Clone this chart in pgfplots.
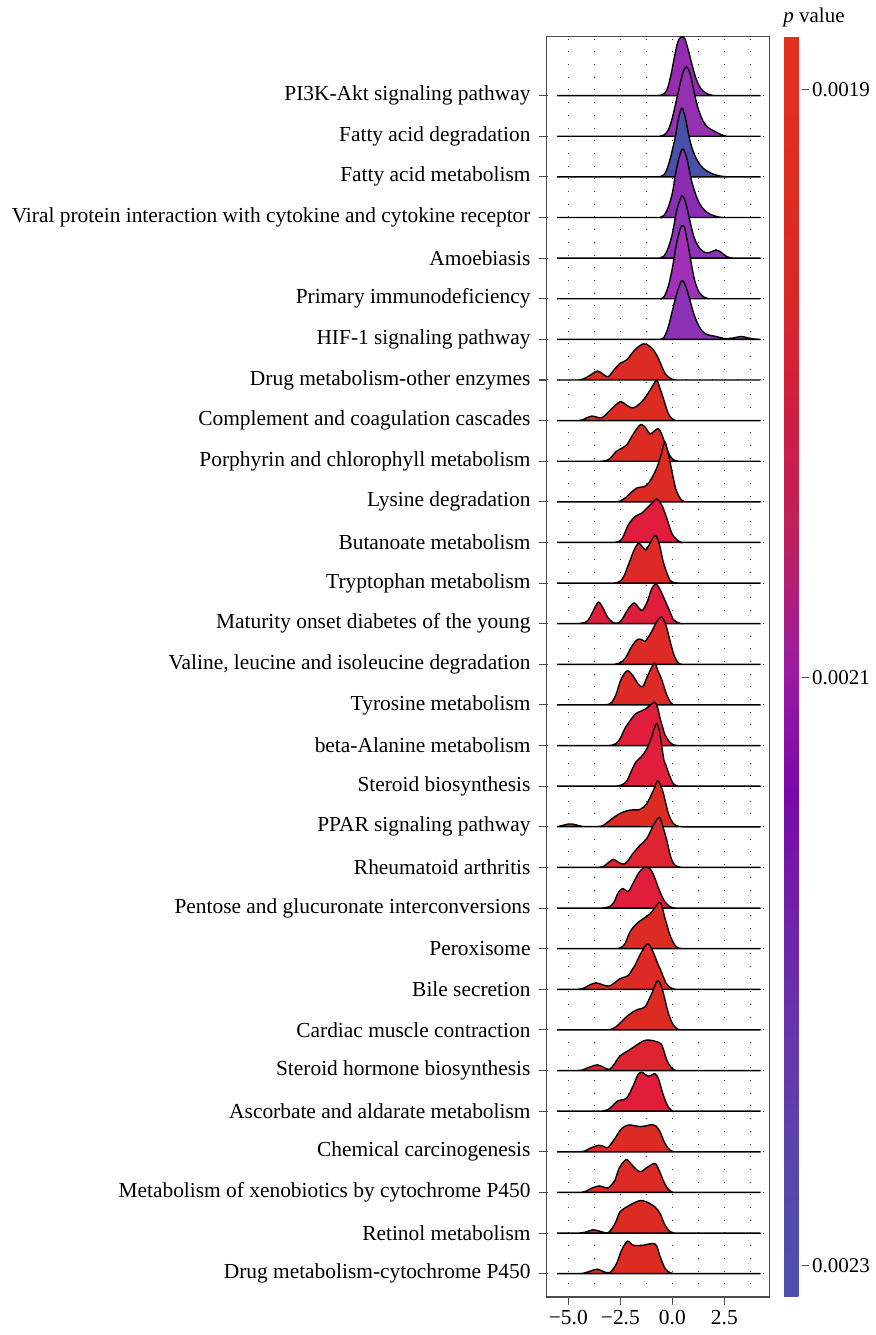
\documentclass[border=0pt]{standalone}
\usepackage{pgfplots}
\pgfplotsset{compat=1.18}
\usepackage{fontspec}
\setmainfont{Liberation Serif}
\pgfplotsset{colormap={pval}{rgb255=(75,80,174) rgb255=(88,70,172) rgb255=(102,55,171) rgb255=(112,35,170) rgb255=(122,8,170) rgb255=(155,28,160) rgb255=(190,32,95) rgb255=(205,30,65) rgb255=(218,40,38) rgb255=(222,45,32) rgb255=(226,48,30)}}
\definecolor{r30}{HTML}{962CB2}
\definecolor{r29}{HTML}{9530B0}
\definecolor{r28}{HTML}{4A4FA8}
\definecolor{r27}{HTML}{8A2DB2}
\definecolor{r26}{HTML}{8E33B5}
\definecolor{r25}{HTML}{A030B8}
\definecolor{r24}{HTML}{8C32B5}
\definecolor{red1}{HTML}{DC2B22}
\definecolor{red2}{HTML}{DD2A26}
\definecolor{crim}{HTML}{E01E3C}
\definecolor{crim2}{HTML}{DE2430}
\begin{document}
\begin{tikzpicture}
\useasboundingbox (0,0) rectangle (875pt,1335pt);
\begin{axis}[
 at={(546.7pt,38pt)}, anchor=south west,
 scale only axis, width=222.6pt, height=1260.3pt,
 xmin=-6.04, xmax=4.66, ymin=0.426, ymax=31.45,
 clip=false,
 axis line style={draw=black!70, line width=1.1pt},
 tick align=outside, xtick pos=bottom, ytick pos=left,
 xtick={-5,-2.5,0,2.5}, xticklabels={−5.0,−2.5,0.0,2.5},
 minor xtick={-3.75,-1.25,1.25,3.75},
 ytick={1,...,30},
 yticklabels={Drug metabolism-cytochrome P450,Retinol metabolism,Metabolism of xenobiotics by cytochrome P450,Chemical carcinogenesis,Ascorbate and aldarate metabolism,Steroid hormone biosynthesis,Cardiac muscle contraction,Bile secretion,Peroxisome,Pentose and glucuronate interconversions,Rheumatoid arthritis,PPAR signaling pathway,Steroid biosynthesis,beta-Alanine metabolism,Tyrosine metabolism,{Valine, leucine and isoleucine degradation},Maturity onset diabetes of the young,Tryptophan metabolism,Butanoate metabolism,Lysine degradation,Porphyrin and chlorophyll metabolism,Complement and coagulation cascades,Drug metabolism-other enzymes,HIF-1 signaling pathway,Primary immunodeficiency,Amoebiasis,Viral protein interaction with cytokine and cytokine receptor,Fatty acid metabolism,Fatty acid degradation,PI3K-Akt signaling pathway},
 major tick length=7.5pt, minor tick length=0pt,
 tick style={black!70, line width=1.1pt},
 xmajorgrids, xminorgrids, ymajorgrids,
 grid style={black!75, line width=1pt, dash pattern=on 1pt off 11.7pt},
 minor grid style={black!75, line width=1pt, dash pattern=on 1pt off 11.7pt},
 ticklabel style={font=\fontsize{21.4pt}{25pt}\selectfont, inner sep=0pt},
 yticklabel style={xshift=-8.5pt},
 xticklabel style={yshift=-6pt},
 colormap name=pval,
 point meta min=-23.107, point meta max=-18.819,
 colorbar,
 colorbar style={
   at={(parent axis.north east)}, anchor=north west, xshift=6.2pt,
   scale only axis, width=18pt, height=1260.3pt,
   ytick={-23,-21,-19}, yticklabels={0.0023,0.0021,0.0019},
   axis line style={draw=none},
   tick align=outside, major tick length=7pt, ytick pos=right,
   ytick style={black!70, line width=1pt},
   yticklabel style={font=\fontsize{21pt}{25pt}\selectfont, inner sep=0pt, xshift=3pt},
 },
 ridge/.style={draw=black, line width=1.4pt, smooth, tension=0.55},
]
\addplot[ridge, fill=r30, y filter/.expression={y+30}] coordinates {(-5.54,0) (-1.0,0) (-0.7,0) (-0.45,0.03) (-0.25,0.15) (-0.05,0.55) (0.1,0.95) (0.25,1.3) (0.4,1.44) (0.5,1.45) (0.6,1.4) (0.75,1.15) (0.95,0.75) (1.15,0.4) (1.4,0.15) (1.7,0.04) (2.0,0) (2.3,0) (4.24,0)} -- cycle;
\addplot[ridge, fill=r29, y filter/.expression={y+29}] coordinates {(-5.54,0) (-0.9,0) (-0.6,0) (-0.4,0.03) (-0.2,0.15) (0.0,0.45) (0.2,0.9) (0.4,1.35) (0.55,1.62) (0.69,1.71) (0.85,1.55) (1.0,1.2) (1.2,0.75) (1.45,0.4) (1.7,0.22) (2.0,0.13) (2.3,0.05) (2.6,0) (2.9,0) (4.24,0)} -- cycle;
\addplot[ridge, fill=r28, y filter/.expression={y+28}] coordinates {(-5.54,0) (-0.9,0) (-0.6,0) (-0.4,0.05) (-0.25,0.2) (-0.1,0.45) (0.0,0.66) (0.15,1.0) (0.3,1.45) (0.45,1.69) (0.6,1.5) (0.8,1.0) (0.95,0.7) (1.2,0.4) (1.5,0.2) (1.9,0.08) (2.3,0.02) (2.7,0) (3.0,0) (4.24,0)} -- cycle;
\addplot[ridge, fill=r27, y filter/.expression={y+27}] coordinates {(-5.54,0) (-0.9,0) (-0.6,0) (-0.4,0.05) (-0.2,0.25) (0.0,0.6) (0.2,1.2) (0.4,1.6) (0.53,1.68) (0.7,1.45) (0.9,0.95) (1.1,0.6) (1.3,0.35) (1.6,0.15) (2.0,0.04) (2.4,0) (2.7,0) (4.24,0)} -- cycle;
\addplot[ridge, fill=r26, y filter/.expression={y+26}] coordinates {(-5.54,0) (-0.9,0) (-0.6,0) (-0.4,0.05) (-0.2,0.25) (0,0.6) (0.2,1.15) (0.4,1.48) (0.5,1.52) (0.65,1.35) (0.85,0.9) (1.05,0.5) (1.3,0.25) (1.55,0.14) (1.8,0.14) (2.1,0.2) (2.35,0.14) (2.6,0.04) (2.9,0) (3.2,0) (4.24,0)} -- cycle;
\addplot[ridge, fill=r25, y filter/.expression={y+25}] coordinates {(-5.54,0) (-0.9,0) (-0.6,0) (-0.4,0.05) (-0.2,0.3) (0.0,0.75) (0.2,1.35) (0.4,1.75) (0.5,1.79) (0.6,1.72) (0.8,1.2) (0.95,0.75) (1.1,0.4) (1.3,0.15) (1.55,0.03) (1.8,0) (2.1,0) (4.24,0)} -- cycle;
\addplot[ridge, fill=r24, y filter/.expression={y+24}] coordinates {(-5.54,0) (-0.9,0) (-0.6,0) (-0.4,0.05) (-0.2,0.3) (0.0,0.7) (0.2,1.1) (0.4,1.4) (0.5,1.44) (0.65,1.3) (0.85,0.95) (1.05,0.6) (1.3,0.3) (1.55,0.15) (1.8,0.1) (2.1,0.07) (2.5,0.02) (2.9,0.03) (3.3,0.07) (3.6,0.04) (3.9,0.01) (4.24,0)} -- cycle;
\addplot[ridge, fill=red1, y filter/.expression={y+23}] coordinates {(-5.54,0) (-4.8,0) (-4.5,0) (-4.3,0.02) (-4.0,0.1) (-3.6,0.22) (-3.3,0.13) (-3.08,0.08) (-2.8,0.25) (-2.52,0.41) (-2.2,0.49) (-1.8,0.74) (-1.39,0.89) (-1.1,0.83) (-0.91,0.74) (-0.67,0.53) (-0.35,0.16) (-0.03,0.02) (0.2,0) (0.5,0) (4.24,0)} -- cycle;
\addplot[ridge, fill=red1, y filter/.expression={y+22}] coordinates {(-5.54,0) (-4.8,0) (-4.5,0) (-4.3,0.02) (-3.88,0.11) (-3.4,0.07) (-3.0,0.25) (-2.52,0.46) (-2.2,0.38) (-1.88,0.31) (-1.5,0.45) (-1.23,0.62) (-0.95,0.85) (-0.75,0.99) (-0.6,0.8) (-0.43,0.54) (-0.19,0.17) (0.05,0.02) (0.3,0) (0.6,0) (4.24,0)} -- cycle;
\addplot[ridge, fill=red1, y filter/.expression={y+21}] coordinates {(-5.54,0) (-3.7,0) (-3.4,0) (-3.1,0.03) (-2.9,0.12) (-2.7,0.24) (-2.5,0.3) (-2.2,0.4) (-1.9,0.65) (-1.6,0.87) (-1.45,0.9) (-1.25,0.8) (-1.07,0.67) (-0.85,0.75) (-0.67,0.8) (-0.5,0.65) (-0.3,0.35) (-0.1,0.12) (0.1,0.02) (0.3,0) (0.6,0) (4.24,0)} -- cycle;
\addplot[ridge, fill=red1, y filter/.expression={y+20}] coordinates {(-5.54,0) (-3.0,0) (-2.7,0) (-2.5,0.02) (-2.2,0.12) (-2.04,0.2) (-1.71,0.34) (-1.23,0.41) (-0.83,0.74) (-0.59,1.07) (-0.45,1.35) (-0.35,1.47) (-0.25,1.3) (-0.11,0.98) (0.05,0.57) (0.21,0.25) (0.45,0.04) (0.7,0) (1.0,0) (4.24,0)} -- cycle;
\addplot[ridge, fill=crim, y filter/.expression={y+19}] coordinates {(-5.54,0) (-3.1,0) (-2.8,0) (-2.6,0.02) (-2.4,0.1) (-2.12,0.43) (-1.79,0.64) (-1.47,0.72) (-1.23,0.84) (-0.91,1.0) (-0.75,1.07) (-0.51,0.92) (-0.27,0.6) (-0.03,0.23) (0.21,0.07) (0.45,0) (0.75,0) (4.24,0)} -- cycle;
\addplot[ridge, fill=red2, y filter/.expression={y+18}] coordinates {(-5.54,0) (-3.1,0) (-2.8,0) (-2.6,0.02) (-2.45,0.07) (-2.3,0.2) (-2.15,0.4) (-2.0,0.6) (-1.85,0.8) (-1.63,0.98) (-1.45,0.9) (-1.27,0.82) (-1.05,1.0) (-0.83,1.17) (-0.65,1.0) (-0.45,0.55) (-0.3,0.3) (-0.1,0.06) (0.1,0.01) (0.3,0) (0.6,0) (4.24,0)} -- cycle;
\addplot[ridge, fill=crim, y filter/.expression={y+17}] coordinates {(-5.54,0) (-4.9,0) (-4.6,0) (-4.4,0.01) (-4.2,0.03) (-4.0,0.12) (-3.8,0.32) (-3.56,0.53) (-3.35,0.4) (-3.1,0.15) (-2.85,0.03) (-2.6,0.02) (-2.4,0.12) (-2.1,0.38) (-1.83,0.51) (-1.6,0.38) (-1.43,0.33) (-1.2,0.55) (-1.0,0.85) (-0.8,0.98) (-0.6,0.85) (-0.43,0.66) (-0.25,0.45) (-0.11,0.29) (0.05,0.1) (0.21,0.04) (0.45,0) (0.75,0) (4.24,0)} -- cycle;
\addplot[ridge, fill=red2, y filter/.expression={y+16}] coordinates {(-5.54,0) (-3.1,0) (-2.8,0) (-2.6,0.02) (-2.4,0.07) (-2.2,0.2) (-2.0,0.4) (-1.8,0.55) (-1.63,0.62) (-1.45,0.6) (-1.3,0.57) (-1.0,0.8) (-0.75,1.05) (-0.51,1.16) (-0.3,0.95) (-0.1,0.55) (0.1,0.2) (0.3,0.03) (0.5,0) (0.8,0) (4.24,0)} -- cycle;
\addplot[ridge, fill=red2, y filter/.expression={y+15}] coordinates {(-5.54,0) (-3.6,0) (-3.3,0) (-3.1,0.01) (-2.9,0.07) (-2.7,0.27) (-2.45,0.65) (-2.16,0.84) (-1.9,0.72) (-1.65,0.52) (-1.43,0.45) (-1.2,0.7) (-0.87,1.03) (-0.7,0.85) (-0.51,0.62) (-0.27,0.25) (-0.05,0.04) (0.15,0) (0.45,0) (4.24,0)} -- cycle;
\addplot[ridge, fill=crim, y filter/.expression={y+14}] coordinates {(-5.54,0) (-3.4,0) (-3.1,0) (-2.9,0.01) (-2.7,0.05) (-2.5,0.18) (-2.3,0.4) (-2.12,0.55) (-1.79,0.77) (-1.55,0.84) (-1.3,0.9) (-1.05,1.0) (-0.87,1.07) (-0.72,0.95) (-0.59,0.67) (-0.45,0.42) (-0.35,0.26) (-0.15,0.1) (0.05,0.02) (0.3,0) (0.6,0) (4.24,0)} -- cycle;
\addplot[ridge, fill=crim, y filter/.expression={y+13}] coordinates {(-5.54,0) (-3.1,0) (-2.8,0) (-2.6,0.01) (-2.44,0.03) (-2.2,0.12) (-2.0,0.34) (-1.75,0.6) (-1.5,0.72) (-1.25,0.9) (-1.0,1.2) (-0.85,1.45) (-0.75,1.54) (-0.62,1.35) (-0.5,0.95) (-0.4,0.63) (-0.3,0.5) (-0.15,0.28) (0.05,0.06) (0.3,0) (0.6,0) (4.24,0)} -- cycle;
\addplot[ridge, fill=red1, y filter/.expression={y+12}] coordinates {(-5.54,0.005) (-5.3,0.03) (-5.0,0.07) (-4.8,0.07) (-4.5,0.03) (-4.2,0.005) (-3.6,0.005) (-3.3,0.04) (-3.0,0.16) (-2.52,0.33) (-2.04,0.41) (-1.55,0.43) (-1.23,0.57) (-0.91,0.9) (-0.71,1.13) (-0.55,1.0) (-0.43,0.82) (-0.19,0.33) (0.05,0.08) (0.3,0.01) (0.5,0) (0.8,0) (4.24,0)} -- cycle;
\addplot[ridge, fill=crim2, y filter/.expression={y+11}] coordinates {(-5.54,0) (-3.9,0) (-3.6,0) (-3.3,0.03) (-3.05,0.13) (-2.84,0.2) (-2.6,0.13) (-2.36,0.08) (-2.15,0.15) (-1.96,0.3) (-1.55,0.55) (-1.23,0.71) (-0.91,1.04) (-0.63,1.23) (-0.45,1.0) (-0.27,0.67) (-0.1,0.3) (0.05,0.1) (0.25,0.02) (0.45,0) (0.75,0) (4.24,0)} -- cycle;
\addplot[ridge, fill=crim, y filter/.expression={y+10}] coordinates {(-5.54,0) (-3.7,0) (-3.4,0) (-3.2,0.01) (-3.0,0.04) (-2.8,0.15) (-2.6,0.38) (-2.39,0.48) (-2.12,0.41) (-1.9,0.6) (-1.6,0.88) (-1.35,1.0) (-1.2,1.01) (-1.0,0.92) (-0.83,0.72) (-0.59,0.39) (-0.35,0.15) (-0.1,0.03) (0.15,0) (0.45,0) (4.24,0)} -- cycle;
\addplot[ridge, fill=red1, y filter/.expression={y+9}] coordinates {(-5.54,0) (-3.0,0) (-2.7,0) (-2.5,0.02) (-2.28,0.12) (-2.04,0.41) (-1.71,0.62) (-1.39,0.74) (-1.07,0.86) (-0.75,1.07) (-0.56,1.13) (-0.35,0.74) (-0.11,0.33) (0.13,0.08) (0.35,0.01) (0.55,0) (0.85,0) (4.24,0)} -- cycle;
\addplot[ridge, fill=red2, y filter/.expression={y+8}] coordinates {(-5.54,0) (-4.9,0) (-4.6,0) (-4.3,0.02) (-4.0,0.1) (-3.67,0.16) (-3.35,0.11) (-3.03,0.08) (-2.75,0.17) (-2.52,0.26) (-2.12,0.34) (-1.95,0.47) (-1.8,0.59) (-1.5,0.9) (-1.19,1.12) (-0.95,0.95) (-0.67,0.59) (-0.56,0.47) (-0.3,0.15) (-0.05,0.03) (0.2,0) (0.5,0) (4.24,0)} -- cycle;
\addplot[ridge, fill=red1, y filter/.expression={y+7}] coordinates {(-5.54,0) (-3.5,0) (-3.2,0) (-3.0,0.01) (-2.7,0.08) (-2.28,0.29) (-1.88,0.45) (-1.63,0.51) (-1.31,0.57) (-0.99,0.9) (-0.72,1.21) (-0.55,1.1) (-0.43,0.9) (-0.19,0.41) (0.05,0.12) (0.3,0.01) (0.5,0) (0.8,0) (4.24,0)} -- cycle;
\addplot[ridge, fill=crim2, y filter/.expression={y+6}] coordinates {(-5.54,0) (-4.9,0) (-4.6,0) (-4.36,0.01) (-4.0,0.08) (-3.6,0.14) (-3.3,0.08) (-3.03,0.03) (-2.8,0.15) (-2.52,0.36) (-2.12,0.49) (-1.71,0.63) (-1.39,0.73) (-1.1,0.75) (-0.75,0.71) (-0.51,0.63) (-0.27,0.26) (-0.03,0.06) (0.2,0) (0.5,0) (4.24,0)} -- cycle;
\addplot[ridge, fill=crim, y filter/.expression={y+5}] coordinates {(-5.54,0) (-3.7,0) (-3.4,0) (-3.1,0.04) (-2.9,0.12) (-2.6,0.26) (-2.2,0.32) (-1.88,0.63) (-1.65,0.9) (-1.47,0.96) (-1.3,0.9) (-1.15,0.86) (-0.95,0.9) (-0.83,0.92) (-0.67,0.8) (-0.43,0.39) (-0.19,0.1) (0.05,0) (0.35,0) (4.24,0)} -- cycle;
\addplot[ridge, fill=red1, y filter/.expression={y+4}] coordinates {(-5.54,0) (-4.7,0) (-4.4,0) (-4.2,0.02) (-3.9,0.1) (-3.51,0.16) (-3.25,0.12) (-3.08,0.11) (-2.76,0.33) (-2.44,0.57) (-2.12,0.66) (-1.8,0.64) (-1.55,0.62) (-1.25,0.64) (-0.99,0.67) (-0.8,0.64) (-0.59,0.49) (-0.35,0.2) (-0.11,0.04) (0.15,0) (0.45,0) (4.24,0)} -- cycle;
\addplot[ridge, fill=red2, y filter/.expression={y+3}] coordinates {(-5.54,0) (-4.8,0) (-4.5,0) (-4.2,0.02) (-3.9,0.1) (-3.51,0.16) (-3.25,0.12) (-3.08,0.11) (-2.9,0.2) (-2.76,0.3) (-2.55,0.6) (-2.3,0.78) (-2.15,0.8) (-1.9,0.65) (-1.55,0.51) (-1.2,0.62) (-0.83,0.71) (-0.6,0.5) (-0.4,0.25) (-0.2,0.08) (0.05,0) (0.35,0) (4.24,0)} -- cycle;
\addplot[ridge, fill=red1, y filter/.expression={y+2}] coordinates {(-5.54,0) (-4.8,0) (-4.5,0) (-4.2,0.02) (-3.8,0.08) (-3.45,0.04) (-3.08,0.01) (-2.76,0.23) (-2.52,0.52) (-2.2,0.64) (-1.85,0.74) (-1.55,0.8) (-1.25,0.77) (-0.83,0.64) (-0.59,0.48) (-0.35,0.19) (-0.1,0.03) (0.1,0) (0.4,0) (4.24,0)} -- cycle;
\addplot[ridge, fill=red1, y filter/.expression={y+1}] coordinates {(-5.54,0) (-4.8,0) (-4.5,0) (-4.28,0.01) (-3.9,0.07) (-3.6,0.11) (-3.3,0.05) (-3.0,0.03) (-2.68,0.25) (-2.44,0.58) (-2.15,0.8) (-1.88,0.7) (-1.4,0.7) (-0.83,0.73) (-0.59,0.42) (-0.35,0.13) (-0.1,0.02) (0.1,0) (0.4,0) (4.24,0)} -- cycle;
\end{axis}
\node[font=\fontsize{21pt}{25pt}\selectfont, inner sep=0pt] at (814pt,1318pt) {\textit{p} value};
\end{tikzpicture}
\end{document}
